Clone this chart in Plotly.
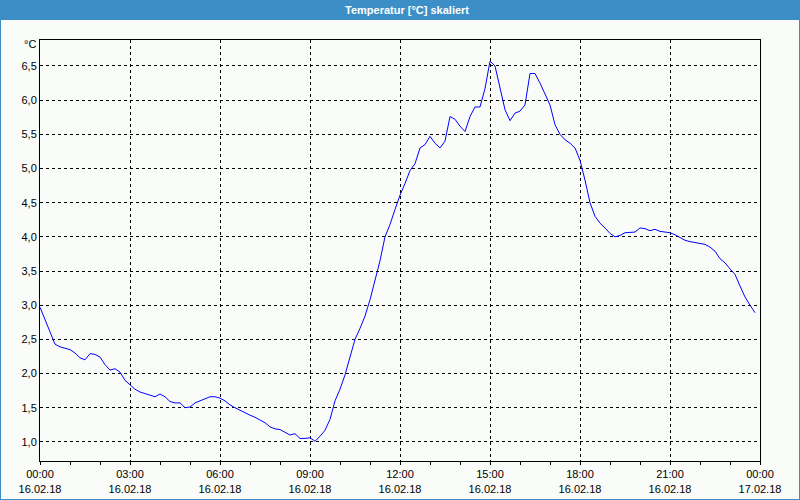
import pandas as pd
import plotly.graph_objects as go

# ---- data (10-minute samples, 16.02.18 00:00 .. 23:50) ----
temperature = [
    2.97, 2.78, 2.59, 2.43, 2.39, 2.37, 2.35, 2.30, 2.23, 2.20, 2.29, 2.28,
    2.24, 2.13, 2.05, 2.07, 2.02, 1.90, 1.83, 1.77, 1.73, 1.71, 1.68, 1.66,
    1.70, 1.66, 1.59, 1.57, 1.57, 1.50, 1.51, 1.57, 1.60, 1.63, 1.66, 1.66,
    1.64, 1.60, 1.54, 1.50, 1.46, 1.42, 1.39, 1.36, 1.32, 1.28, 1.22, 1.19,
    1.18, 1.14, 1.10, 1.12, 1.05, 1.05, 1.06, 1.01, 1.08, 1.17, 1.33, 1.60,
    1.77, 1.98, 2.24, 2.50, 2.66, 2.84, 3.08, 3.38, 3.65, 4.00, 4.18, 4.40,
    4.61, 4.78, 4.97, 5.07, 5.30, 5.35, 5.47, 5.37, 5.30, 5.40, 5.76, 5.72,
    5.62, 5.54, 5.76, 5.90, 5.90, 6.17, 6.57, 6.50, 6.17, 5.86, 5.70, 5.81,
    5.84, 5.93, 6.39, 6.39, 6.25, 6.10, 5.93, 5.64, 5.50, 5.42, 5.37, 5.30,
    5.12, 4.83, 4.50, 4.30, 4.20, 4.13, 4.05, 4.00, 4.02, 4.06, 4.06, 4.07,
    4.13, 4.12, 4.09, 4.11, 4.08, 4.07, 4.06, 4.03, 3.99, 3.95, 3.93, 3.92,
    3.91, 3.89, 3.85, 3.79, 3.68, 3.62, 3.53, 3.45, 3.28, 3.12, 3.00, 2.89,
]
times = pd.date_range("2018-02-16 00:00", periods=len(temperature), freq="10min")

x_tickvals = ["2018-02-16 00:00", "2018-02-16 03:00", "2018-02-16 06:00",
              "2018-02-16 09:00", "2018-02-16 12:00", "2018-02-16 15:00",
              "2018-02-16 18:00", "2018-02-16 21:00", "2018-02-17 00:00"]
x_ticktext = ["00:00<br>16.02.18", "03:00<br>16.02.18", "06:00<br>16.02.18",
              "09:00<br>16.02.18", "12:00<br>16.02.18", "15:00<br>16.02.18",
              "18:00<br>16.02.18", "21:00<br>16.02.18", "00:00<br>17.02.18"]
y_tickvals = [1.0, 1.5, 2.0, 2.5, 3.0, 3.5, 4.0, 4.5, 5.0, 5.5, 6.0, 6.5]
y_ticktext = ["1,0", "1,5", "2,0", "2,5", "3,0", "3,5", "4,0", "4,5",
              "5,0", "5,5", "6,0", "6,5"]
title_text = "Temperatur [°C] skaliert"
unit_text = "°C"

# ---- figure ----
W, H = 800, 500
ML, MR, MT, MB = 40, 40, 40, 39
PW, PH = W - ML - MR, H - MT - MB
BG = "#fafcfa"
BLUE = "#3c8fc6"
FONT = "Liberation Sans"

fig = go.Figure()
fig.add_trace(go.Scatter(x=times, y=temperature, mode="lines",
                         line=dict(color="#0000ff", width=1),
                         hoverinfo="skip", showlegend=False))

fig.update_layout(
    width=W, height=H,
    margin=dict(l=ML, r=MR, t=MT, b=MB, autoexpand=False),
    paper_bgcolor=BG, plot_bgcolor=BG,
    font=dict(family=FONT, size=11, color="#000000"),
    showlegend=False,
)

fig.update_xaxes(
    type="date",
    range=["2018-02-16 00:00", "2018-02-17 00:00"],
    tickmode="array", tickvals=x_tickvals, ticktext=x_ticktext,
    ticks="outside", ticklen=3, tickcolor="#000000", tickwidth=1,
    minor=dict(tickmode="linear", tick0="2018-02-16 00:00", dtick=3600000,
               ticks="outside", ticklen=3, tickcolor="#000000", showgrid=False),
    showgrid=True, gridcolor="#000000", gridwidth=1, griddash="3px,3px",
    showline=True, mirror=True, linecolor="#000000", linewidth=1,
    zeroline=False, tickfont=dict(family=FONT, size=11, color="#000000"),
    fixedrange=True,
)
fig.update_yaxes(
    range=[0.72, 6.88],
    tickmode="array", tickvals=y_tickvals, ticktext=y_ticktext,
    ticks="", showgrid=True, gridcolor="#000000", gridwidth=1, griddash="3px,3px",
    showline=True, mirror=True, linecolor="#000000", linewidth=1,
    zeroline=False, tickfont=dict(family=FONT, size=11, color="#000000"),
    fixedrange=True,
)

def px_x(p):
    return (p - ML) / PW

def px_y(p):
    return 1 - (p - MT) / PH

# title bar
fig.add_shape(type="rect", xref="paper", yref="paper",
              x0=px_x(0), x1=px_x(W), y0=px_y(20), y1=px_y(0),
              fillcolor=BLUE, line=dict(width=0), layer="below")
# outer frame
fig.add_shape(type="rect", xref="paper", yref="paper",
              x0=px_x(0), x1=px_x(W), y0=px_y(H), y1=px_y(0),
              fillcolor="rgba(0,0,0,0)", line=dict(color=BLUE, width=2))

fig.add_annotation(text="<b>" + title_text + "</b>", xref="paper", yref="paper",
                   x=px_x(407), y=px_y(10), showarrow=False,
                   xanchor="center", yanchor="middle",
                   font=dict(family=FONT, size=11, color="#ffffff"))
fig.add_annotation(text=unit_text, xref="paper", yref="paper",
                   x=px_x(38), y=px_y(44), showarrow=False,
                   xanchor="right", yanchor="middle",
                   font=dict(family=FONT, size=11, color="#000000"))

fig.write_html("out.html")
